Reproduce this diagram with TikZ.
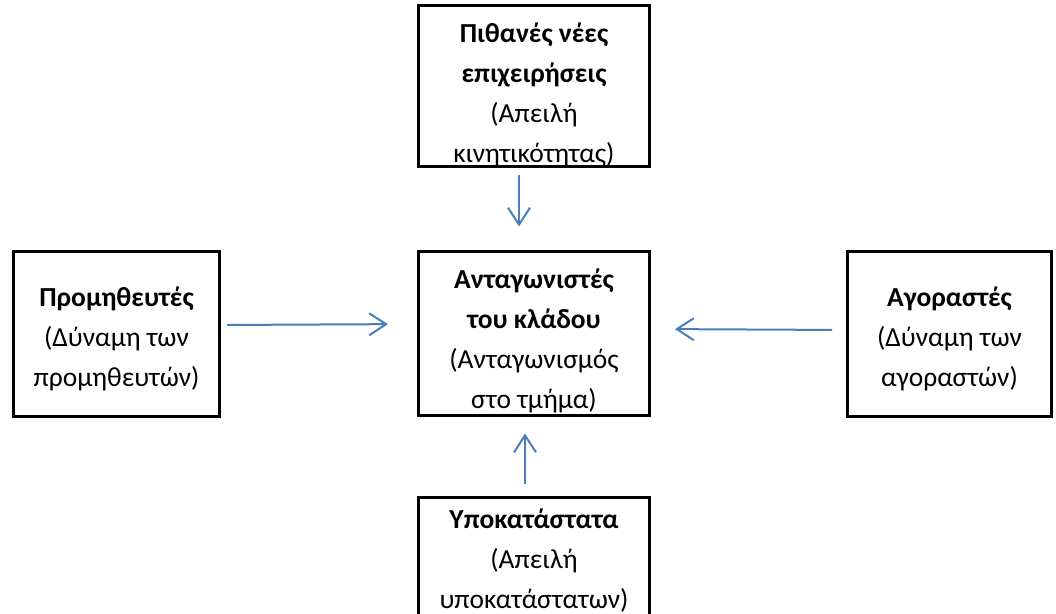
\documentclass[tikz,border=0pt]{standalone}
\usepackage{fontspec}
\setmainfont{Carlito}
\usetikzlibrary{arrows.meta}
\definecolor{arrowblue}{HTML}{4A7EBB}
\newcommand\firstlift[1]{\rule{0pt}{#1}}
\tikzset{
  box/.style={draw=black, line width=3pt, rectangle, inner sep=0pt, align=center,
    font=\fontsize{27.5}{40}\selectfont},
  arr/.style={draw=arrowblue, line width=2pt, -{Straight Barb[length=17pt,width=22pt,line width=2pt]}}
}
\begin{document}
\begin{tikzpicture}[x=1pt,y=-1pt]
\useasboundingbox (0,0) rectangle (1056,613);
\node[box, minimum width=231pt, minimum height=155pt] (top) at (534,86)
  {\firstlift{37pt}\textbf{Πιθανές νέες}\\\textbf{επιχειρήσεις}\\(Απειλή\\κινητικότητας)};
\node[box, minimum width=231pt, minimum height=164pt] (mid) at (534,333)
  {\firstlift{35pt}\textbf{Ανταγωνιστές}\\\textbf{του κλάδου}\\(Ανταγωνισμός\\στο τμήμα)};
\node[box, minimum width=206pt, minimum height=165pt] (left) at (116.5,334)
  {\firstlift{29pt}\textbf{Προμηθευτές}\\(Δύναμη των\\προμηθευτών)};
\node[box, minimum width=204pt, minimum height=165pt] (right) at (949.5,334)
  {\firstlift{29pt}\textbf{Αγοραστές}\\(Δύναμη των\\αγοραστών)};
\node[box, minimum width=231pt, minimum height=128pt] (bottom) at (534,561)
  {\textbf{Υποκατάστατα}\\(Απειλή\\υποκατάστατων)};
\draw[arr, shorten <=7pt, shorten >=23pt] ([xshift=-15pt]top.south) -- ([xshift=-15pt]mid.north);
\draw[arr, shorten <=12pt, shorten >=17pt] ([xshift=-9pt]bottom.north) -- ([xshift=-9pt]mid.south);
\draw[arr, shorten <=6pt, shorten >=29pt] ([yshift=9pt]left.east) -- ([yshift=9pt]mid.west);
\draw[arr, shorten <=14pt, shorten >=24pt] ([yshift=4pt]right.west) -- ([yshift=4pt]mid.east);
\end{tikzpicture}
\end{document}
